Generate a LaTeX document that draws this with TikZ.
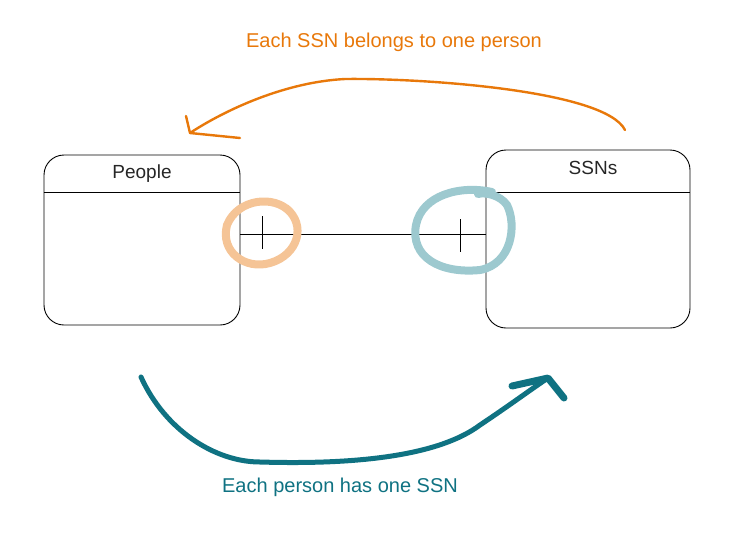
\documentclass[tikz,border=0pt]{standalone}
\usepackage{fontspec}
\setmainfont{Liberation Sans}
\usetikzlibrary{calc}

\definecolor{naranja}{HTML}{E8780A}
\definecolor{naranjaclaro}{HTML}{F5C496}
\definecolor{petroleo}{HTML}{0F7282}
\definecolor{petroleoclaro}{HTML}{9DC9CF}

\tikzset{
	tabla/.style={draw, black, line width=.9pt, rounded corners=20pt, inner sep=0pt},
	titulo/.style={font=\fontsize{19}{22}\selectfont, black!85},
	nota/.style={font=\fontsize{20}{24}\selectfont}
}

\begin{document}
\begin{tikzpicture}[x=1pt, y=-1pt]
\useasboundingbox (0,0) rectangle (738,541);

%%%%%%%%%%%%%%%%%%%%%%%%%%%%%%%%%%%%%%%%%%%%%%%% 	TABLAS
\node[tabla, minimum width=196pt, minimum height=170pt] (people) at (142,240) {};
\node[tabla, minimum width=204pt, minimum height=178pt] (ssns) at (588,239) {};

\draw[line width=.9pt] ($(people.north west)+(0,38)$) -- ($(people.north east)+(0,38)$);	%%%%	Linea del titulo
\draw[line width=.9pt] ($(ssns.north west)+(0,43)$) -- ($(ssns.north east)+(0,43)$);

\node[titulo] (tpeople) at (142,174) {People};
\node[titulo] (tssns) at (593,168) {SSNs};

%%%%%%%%%%%%%%%%%%%%%%%%%%%%%%%%%%%%%%%%%%%%%%%% 	RELACION
\draw[line width=.8pt] (people.east |- 0,234) coordinate (uno) -- (ssns.west |- 0,234) coordinate (dos);
\draw[line width=1pt] (262,216) -- (262,249);		%%%%	Marca de uno
\draw[line width=1pt] (460,219) -- (460,252);

%%%%%%%%%%%%%%%%%%%%%%%%%%%%%%%%%%%%%%%%%%%%%%%% 	CIRCULOS
\draw[naranjaclaro, line width=8pt, line cap=round]
(290,212) .. controls (275,195) and (238,198) .. (227,225)
.. controls (220,252) and (245,270) .. (270,263)
.. controls (298,255) and (307,225) .. (286,208);

\draw[petroleoclaro, line width=8pt, line cap=round]
(492,192) .. controls (460,185) and (422,195) .. (416,225)
.. controls (410,257) and (440,274) .. (480,270)
.. controls (512,264) and (517,225) .. (507,205)
.. controls (500,195) and (485,192) .. (478,194);

%%%%%%%%%%%%%%%%%%%%%%%%%%%%%%%%%%%%%%%%%%%%%%%% 	FLECHA DE ARRIBA
\coordinate (a1) at (625,130);
\coordinate (a2) at (190,133);
\draw[naranja, line width=2.4pt, line cap=round, line join=round]
(a1) .. controls (605,90) and (420,78) .. (345,79)
.. controls (285,82) and (225,110) .. (a2);
\draw[naranja, line width=2.4pt, line cap=round, line join=round]
(186,116) -- (a2) -- (240,138);
\node[nota, naranja] (arriba) at (394,42) {Each SSN belongs to one person};

%%%%%%%%%%%%%%%%%%%%%%%%%%%%%%%%%%%%%%%%%%%%%%%%%%%%%%%%%%%%%% 	FLECHA DE ABAJO
\coordinate (b1) at (141,377);
\coordinate (b2) at (548,378);
\draw[petroleo, line width=5pt, line cap=round, line join=round]
(b1) .. controls (165,430) and (215,462) .. (260,462)
.. controls (360,465) and (440,455) .. (480,425)
.. controls (510,405) and (530,390) .. (b2);
\draw[petroleo, line width=7pt, line cap=round, line join=round]
(512,386) -- (b2) -- (564,398);
\node[nota, petroleo] (abajo) at (340,487) {Each person has one SSN};

\end{tikzpicture}
\end{document}
